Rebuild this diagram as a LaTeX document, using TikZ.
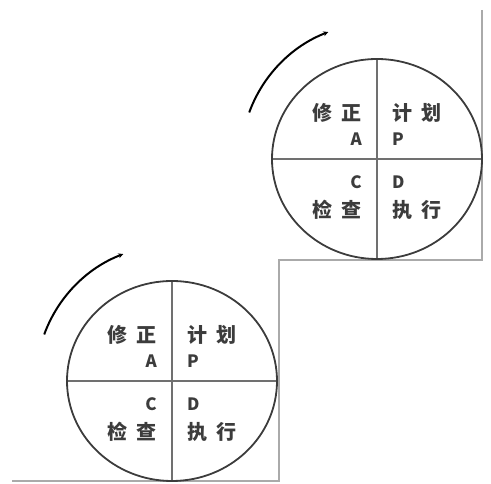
\documentclass[tikz,border=0pt]{standalone}
\usepackage{fontspec}
\usepackage{tikz}
\usetikzlibrary{arrows.meta,positioning,calc}
\newfontfamily\cjk{Noto Sans CJK SC}
\definecolor{ringgrey}{HTML}{3C3C3C}
\definecolor{crossgrey}{HTML}{707070}
\definecolor{stairgrey}{HTML}{AAAAAA}
\tikzset{
  quadl/.style={anchor=east,font=\cjk\bfseries\fontsize{20}{20}\selectfont,text=ringgrey,inner sep=0pt},
  quadr/.style={anchor=west,font=\cjk\bfseries\fontsize{20}{20}\selectfont,text=ringgrey,inner sep=0pt},
  letl/.style={quadl,font=\cjk\bfseries\fontsize{17}{17}\selectfont},
  letr/.style={quadr,font=\cjk\bfseries\fontsize{17}{17}\selectfont}
}

\begin{document}
\begin{tikzpicture}[x=1pt,y=1pt]
    \useasboundingbox (0,0) rectangle (491,484);
    % staircase
    \draw[stairgrey,line width=1.2pt] (482,474) -- (482,224) -- (279,224) -- (279,3) -- (12,3);
    \foreach \cx/\cy/\n in {377/325/up,172/103/lo} {
      \begin{scope}[shift={(\cx,\cy)}]
        \draw[crossgrey,line width=1.1pt] (0,-100) -- (0,100);
        \draw[crossgrey,line width=1.1pt] (-105,0) -- (105,0);
        \draw[ringgrey,line width=1.8pt] (0,0) ellipse [x radius=105,y radius=100];
        \draw[black,line width=2pt,-{Stealth[length=5pt,width=5pt]}] (160:136) arc[start angle=160,end angle=111,radius=136];
        \node[quadl] (act\n) at (-15,46) {修\hspace{0.45em}正};
        \node[letl]  (a\n)   at (-15,20) {A};
        \node[quadr] (plan\n) at (15,46) {计\hspace{0.45em}划};
        \node[letr]  (p\n)   at (15,20) {P};
        \node[letl]  (c\n)   at (-15,-23) {C};
        \node[quadl] (chk\n) at (-15,-51) {检\hspace{0.45em}查};
        \node[letr]  (d\n)   at (15,-23) {D};
        \node[quadr] (do\n)  at (15,-51) {执\hspace{0.45em}行};
      \end{scope}
    }
  \end{tikzpicture}
\end{document}
